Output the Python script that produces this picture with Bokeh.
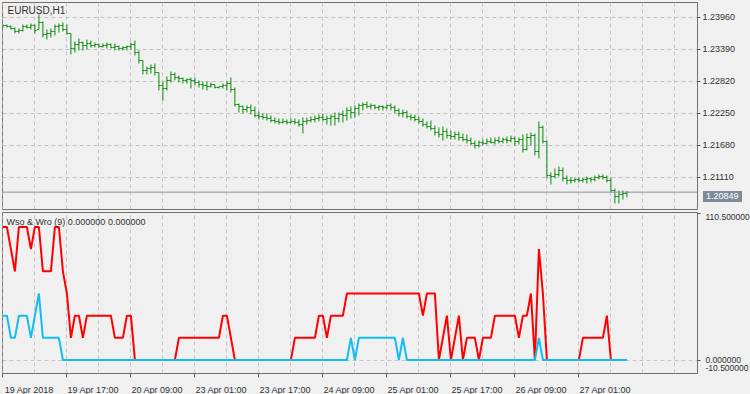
import numpy as np
from bokeh.plotting import figure
from bokeh.layouts import column
from bokeh.models import Range1d, FixedTicker, PrintfTickFormatter, Span, Label, Grid, Div
from bokeh.embed import file_html
from bokeh.resources import INLINE

# ---------------- data ----------------
symbol_title = "EURUSD,H1"
osc_title = "Wso & Wro (9) 0.000000 0.000000"
time_labels = ["19 Apr 2018", "19 Apr 17:00", "20 Apr 09:00", "23 Apr 01:00", "23 Apr 17:00",
               "24 Apr 09:00", "25 Apr 01:00", "25 Apr 17:00", "26 Apr 09:00", "27 Apr 01:00"]
label_bars = [0, 16, 32, 48, 64, 80, 96, 112, 128, 144]
price_ticks = [1.23960, 1.23390, 1.22820, 1.22250, 1.21680, 1.21110]
last_price = 1.20849
osc_ticks = [110.5, 0.0, -10.5]

high = [
    1.23835, 1.23835, 1.23818, 1.23782, 1.23764, 1.23835, 1.23835, 1.23853, 1.23835, 1.24013,
    1.23889, 1.23746, 1.23764, 1.23835, 1.23853, 1.23871, 1.23835, 1.23675, 1.23532, 1.23586,
    1.23532, 1.23568, 1.23550, 1.23515, 1.23497, 1.23497, 1.23515, 1.23497, 1.23497, 1.23461,
    1.23443, 1.23461, 1.23515, 1.23550, 1.23372, 1.23194, 1.23087, 1.23123, 1.23141, 1.22980,
    1.22820, 1.22909, 1.22998, 1.22980, 1.22927, 1.22891, 1.22873, 1.22891, 1.22891, 1.22838,
    1.22820, 1.22820, 1.22802, 1.22766, 1.22731, 1.22784, 1.22820, 1.22891, 1.22713, 1.22428,
    1.22393, 1.22393, 1.22410, 1.22375, 1.22286, 1.22250, 1.22250, 1.22214, 1.22179, 1.22161,
    1.22161, 1.22143, 1.22161, 1.22161, 1.22143, 1.22179, 1.22179, 1.22197, 1.22214, 1.22232,
    1.22250, 1.22214, 1.22232, 1.22268, 1.22268, 1.22304, 1.22357, 1.22375, 1.22393, 1.22428,
    1.22446, 1.22464, 1.22428, 1.22410, 1.22393, 1.22393, 1.22410, 1.22428, 1.22393, 1.22339,
    1.22321, 1.22304, 1.22232, 1.22232, 1.22197, 1.22161, 1.22108, 1.22125, 1.22036, 1.22001,
    1.22018, 1.21983, 1.21947, 1.21929, 1.21929, 1.21894, 1.21876, 1.21822, 1.21769, 1.21769,
    1.21787, 1.21805, 1.21822, 1.21822, 1.21840, 1.21822, 1.21840, 1.21858, 1.21840, 1.21822,
    1.21876, 1.21894, 1.21912, 1.21894, 1.22108, 1.22036, 1.21769, 1.21199, 1.21271, 1.21306,
    1.21289, 1.21146, 1.21110, 1.21110, 1.21110, 1.21110, 1.21128, 1.21110, 1.21146, 1.21164,
    1.21164, 1.21146, 1.21110, 1.20914, 1.20879, 1.20879, 1.20861]

low = [
    1.23782, 1.23782, 1.23746, 1.23675, 1.23675, 1.23711, 1.23764, 1.23746, 1.23675, 1.23746,
    1.23604, 1.23568, 1.23604, 1.23639, 1.23693, 1.23711, 1.23657, 1.23301, 1.23336, 1.23372,
    1.23372, 1.23390, 1.23425, 1.23425, 1.23425, 1.23425, 1.23408, 1.23408, 1.23372, 1.23372,
    1.23372, 1.23372, 1.23390, 1.23283, 1.23141, 1.22945, 1.22945, 1.22962, 1.22927, 1.22660,
    1.22482, 1.22660, 1.22802, 1.22838, 1.22802, 1.22784, 1.22784, 1.22695, 1.22749, 1.22713,
    1.22677, 1.22660, 1.22713, 1.22695, 1.22695, 1.22695, 1.22660, 1.22624, 1.22375, 1.22268,
    1.22250, 1.22268, 1.22232, 1.22179, 1.22143, 1.22143, 1.22125, 1.22090, 1.22072, 1.22054,
    1.22072, 1.22054, 1.22072, 1.22054, 1.22018, 1.21894, 1.22054, 1.22090, 1.22090, 1.22108,
    1.22108, 1.22054, 1.22036, 1.22036, 1.22090, 1.22090, 1.22125, 1.22161, 1.22179, 1.22214,
    1.22304, 1.22339, 1.22321, 1.22321, 1.22304, 1.22304, 1.22321, 1.22304, 1.22250, 1.22197,
    1.22179, 1.22161, 1.22125, 1.22108, 1.22072, 1.22018, 1.21983, 1.21947, 1.21858, 1.21822,
    1.21769, 1.21805, 1.21787, 1.21787, 1.21769, 1.21751, 1.21716, 1.21680, 1.21627, 1.21644,
    1.21680, 1.21698, 1.21716, 1.21698, 1.21716, 1.21716, 1.21716, 1.21733, 1.21680, 1.21698,
    1.21555, 1.21591, 1.21680, 1.21502, 1.21449, 1.21716, 1.21092, 1.20985, 1.21092, 1.21128,
    1.21039, 1.20985, 1.21003, 1.21021, 1.21021, 1.21021, 1.21003, 1.21021, 1.21039, 1.21074,
    1.21074, 1.21021, 1.20843, 1.20647, 1.20647, 1.20718, 1.20754]

open_ = [
    1.23800, 1.23818, 1.23800, 1.23764, 1.23711, 1.23728, 1.23800, 1.23782, 1.23818, 1.23746,
    1.23871, 1.23657, 1.23675, 1.23711, 1.23800, 1.23818, 1.23746, 1.23675, 1.23408, 1.23479,
    1.23515, 1.23461, 1.23497, 1.23461, 1.23479, 1.23443, 1.23461, 1.23479, 1.23425, 1.23443,
    1.23408, 1.23425, 1.23443, 1.23479, 1.23336, 1.23194, 1.23016, 1.23052, 1.23069, 1.22980,
    1.22749, 1.22695, 1.22838, 1.22945, 1.22891, 1.22873, 1.22838, 1.22856, 1.22838, 1.22802,
    1.22766, 1.22749, 1.22731, 1.22766, 1.22713, 1.22731, 1.22749, 1.22784, 1.22677, 1.22410,
    1.22375, 1.22321, 1.22357, 1.22304, 1.22214, 1.22197, 1.22179, 1.22161, 1.22125, 1.22108,
    1.22090, 1.22108, 1.22090, 1.22108, 1.22090, 1.22054, 1.22108, 1.22125, 1.22143, 1.22161,
    1.22179, 1.22143, 1.22161, 1.22197, 1.22161, 1.22232, 1.22214, 1.22304, 1.22268, 1.22339,
    1.22393, 1.22410, 1.22375, 1.22393, 1.22357, 1.22375, 1.22357, 1.22393, 1.22357, 1.22304,
    1.22250, 1.22268, 1.22197, 1.22179, 1.22143, 1.22108, 1.22054, 1.22018, 1.21983, 1.21912,
    1.21876, 1.21929, 1.21858, 1.21840, 1.21876, 1.21822, 1.21787, 1.21769, 1.21716, 1.21680,
    1.21733, 1.21716, 1.21751, 1.21733, 1.21769, 1.21751, 1.21787, 1.21769, 1.21805, 1.21751,
    1.21787, 1.21609, 1.21822, 1.21858, 1.21573, 1.22001, 1.21751, 1.21146, 1.21128, 1.21164,
    1.21235, 1.21092, 1.21057, 1.21057, 1.21074, 1.21057, 1.21074, 1.21092, 1.21074, 1.21110,
    1.21128, 1.21110, 1.21057, 1.20879, 1.20771, 1.20807, 1.20825]

close = [
    1.23818, 1.23800, 1.23764, 1.23711, 1.23728, 1.23800, 1.23782, 1.23818, 1.23728, 1.23871,
    1.23657, 1.23675, 1.23711, 1.23800, 1.23818, 1.23746, 1.23675, 1.23408, 1.23479, 1.23515,
    1.23461, 1.23497, 1.23461, 1.23479, 1.23443, 1.23461, 1.23479, 1.23425, 1.23443, 1.23408,
    1.23425, 1.23443, 1.23479, 1.23336, 1.23194, 1.23016, 1.23052, 1.23069, 1.22980, 1.22749,
    1.22695, 1.22838, 1.22945, 1.22891, 1.22873, 1.22838, 1.22856, 1.22838, 1.22802, 1.22766,
    1.22749, 1.22731, 1.22766, 1.22713, 1.22731, 1.22749, 1.22784, 1.22677, 1.22410, 1.22375,
    1.22321, 1.22357, 1.22304, 1.22214, 1.22197, 1.22179, 1.22161, 1.22125, 1.22108, 1.22090,
    1.22108, 1.22090, 1.22108, 1.22090, 1.22054, 1.22108, 1.22125, 1.22143, 1.22161, 1.22179,
    1.22143, 1.22161, 1.22197, 1.22161, 1.22232, 1.22214, 1.22304, 1.22268, 1.22339, 1.22393,
    1.22410, 1.22375, 1.22393, 1.22357, 1.22375, 1.22357, 1.22393, 1.22357, 1.22304, 1.22250,
    1.22268, 1.22197, 1.22179, 1.22143, 1.22108, 1.22054, 1.22018, 1.21983, 1.21912, 1.21876,
    1.21929, 1.21858, 1.21840, 1.21876, 1.21822, 1.21787, 1.21769, 1.21716, 1.21680, 1.21733,
    1.21716, 1.21751, 1.21733, 1.21769, 1.21751, 1.21787, 1.21769, 1.21805, 1.21751, 1.21787,
    1.21609, 1.21822, 1.21858, 1.21573, 1.22001, 1.21751, 1.21146, 1.21128, 1.21164, 1.21235,
    1.21092, 1.21057, 1.21057, 1.21074, 1.21057, 1.21074, 1.21092, 1.21074, 1.21110, 1.21128,
    1.21110, 1.21057, 1.20879, 1.20771, 1.20807, 1.20825, 1.20849]

# red oscillator line
wro = [
    100, 100, 83.33, 66.67, 100, 100, 100, 83.33, 100, 100,
    66.67, 66.67, 66.67, 100, 100, 66.67, 50, 16.67, 33.33, 33.33,
    16.67, 33.33, 33.33, 33.33, 33.33, 33.33, 33.33, 33.33, 16.67, 16.67,
    16.67, 33.33, 33.33, 0, 0, 0, 0, 0, 0, 0,
    0, 0, 0, 0, 16.67, 16.67, 16.67, 16.67, 16.67, 16.67,
    16.67, 16.67, 16.67, 16.67, 16.67, 33.33, 33.33, 16.67, 0, 0,
    0, 0, 0, 0, 0, 0, 0, 0, 0, 0,
    0, 0, 0, 16.67, 16.67, 16.67, 16.67, 16.67, 16.67, 33.33,
    33.33, 16.67, 33.33, 33.33, 33.33, 33.33, 50, 50, 50, 50,
    50, 50, 50, 50, 50, 50, 50, 50, 50, 50,
    50, 50, 50, 50, 50, 33.33, 50, 50, 50, 0,
    16.67, 33.33, 0, 16.67, 33.33, 0, 16.67, 16.67, 16.67, 0,
    16.67, 16.67, 16.67, 33.33, 33.33, 33.33, 33.33, 33.33, 33.33, 16.67,
    33.33, 33.33, 50, 0, 83.33, 50, 0, 0, 0, 0,
    0, 0, 0, 0, 0, 16.67, 16.67, 16.67, 16.67, 16.67,
    16.67, 33.33, 0, 0, 0, 0, 0]

# blue oscillator line
wso = [
    33.33, 33.33, 16.67, 16.67, 33.33, 33.33, 33.33, 16.67, 33.33, 50,
    16.67, 16.67, 16.67, 16.67, 16.67, 0, 0, 0, 0, 0,
    0, 0, 0, 0, 0, 0, 0, 0, 0, 0,
    0, 0, 0, 0, 0, 0, 0, 0, 0, 0,
    0, 0, 0, 0, 0, 0, 0, 0, 0, 0,
    0, 0, 0, 0, 0, 0, 0, 0, 0, 0,
    0, 0, 0, 0, 0, 0, 0, 0, 0, 0,
    0, 0, 0, 0, 0, 0, 0, 0, 0, 0,
    0, 0, 0, 0, 0, 0, 0, 16.67, 0, 16.67,
    16.67, 16.67, 16.67, 16.67, 16.67, 16.67, 16.67, 16.67, 16.67, 0,
    16.67, 0, 0, 0, 0, 0, 0, 0, 0, 0,
    0, 0, 0, 0, 0, 0, 0, 0, 0, 0,
    0, 0, 0, 0, 0, 0, 0, 0, 0, 0,
    0, 0, 0, 0, 16.67, 0, 0, 0, 0, 0,
    0, 0, 0, 0, 0, 0, 0, 0, 0, 0,
    0, 0, 0, 0, 0, 0, 0]

# ---------------- styling ----------------
FONT = "Liberation Sans"
BG = "#f0f0f0"
FRAME = "#707070"
GRID = "#c4c4c4"
BAR = "#0a8a0a"
TXT = "#303030"
TICK = "#555555"

FRAME_W = 695
TOP_H = 207
BOT_H = 161
LEFT = 2

n = len(close)
idx = np.arange(n)
grid_bars = list(range(0, 176, 8))

x_range = Range1d(-0.1, 173.65)
price_range = Range1d(1.20540, 1.24227)
osc_span = osc_ticks[0] - osc_ticks[2]
half_px = 0.5 * osc_span / BOT_H          # half-pixel nudge so the zero level sits on whole pixels
osc_range = Range1d(osc_ticks[2] + half_px, osc_ticks[0] + half_px)


def style_common(p):
    p.xgrid.grid_line_color = None
    p.ygrid.grid_line_color = None
    p.add_layout(Grid(dimension=0, ticker=FixedTicker(ticks=grid_bars),
                      grid_line_color=GRID, grid_line_dash="4 3", grid_line_width=1))


top = figure(frame_width=FRAME_W, frame_height=TOP_H, x_range=x_range, y_range=price_range,
             output_backend="svg", toolbar_location=None, x_axis_location=None,
             y_axis_location="right", min_border_left=LEFT, min_border_right=53,
             min_border_top=2, min_border_bottom=1, background_fill_color=BG,
             border_fill_color=BG, outline_line_color=FRAME)
style_common(top)
top.add_layout(Grid(dimension=1, ticker=FixedTicker(ticks=price_ticks),
                    grid_line_color=GRID, grid_line_dash="4 3", grid_line_width=1))

ya = top.yaxis[0]
ya.ticker = FixedTicker(ticks=price_ticks, minor_ticks=[])
ya.formatter = PrintfTickFormatter(format="%.5f")
ya.axis_line_color = None
ya.major_tick_out = 3
ya.major_tick_in = 0
ya.major_tick_line_color = TICK
ya.minor_tick_line_color = None
ya.major_label_standoff = 2
ya.major_label_text_font = FONT
ya.major_label_text_font_size = "9px"
ya.major_label_text_color = TXT

top.add_layout(Span(location=last_price, dimension="width", line_color="#8793a0", line_width=1))

bar_w = 0.45
top.segment(x0=idx, y0=low, x1=idx, y1=high, line_color=BAR, line_width=1)
top.segment(x0=idx - bar_w, y0=open_, x1=idx, y1=open_, line_color=BAR, line_width=1)
top.segment(x0=idx, y0=close, x1=idx + bar_w, y1=close, line_color=BAR, line_width=1)

top.add_layout(Label(x=5, y=TOP_H - 8, x_units="screen", y_units="screen", text=symbol_title,
                     text_font=FONT, text_font_size="10px", text_color=TXT,
                     text_baseline="middle", text_align="left"))

# ---------------- oscillator ----------------
bot = figure(frame_width=FRAME_W, frame_height=BOT_H, x_range=x_range, y_range=osc_range,
             output_backend="svg", toolbar_location=None, x_axis_location="below",
             y_axis_location="right", min_border_left=LEFT, min_border_right=53,
             min_border_top=2, min_border_bottom=21, background_fill_color=BG,
             border_fill_color=BG, outline_line_color=FRAME)
style_common(bot)
bot.add_layout(Grid(dimension=1, ticker=FixedTicker(ticks=[0.0]),
                    grid_line_color=GRID, grid_line_dash="4 3", grid_line_width=1))

bot.line(idx, wro, line_color="#ff0000", line_width=2)
bot.line(idx, wso, line_color="#12bdf0", line_width=2)

bot.add_layout(Label(x=4, y=BOT_H - 9, x_units="screen", y_units="screen", text=osc_title,
                     text_font=FONT, text_font_size="9px", text_color=TXT,
                     text_baseline="middle", text_align="left"))

# right axis: labels drawn slightly inside like the terminal does, tick marks at true values
px_per_unit = BOT_H / osc_span
osc_label_pos = [osc_ticks[0] - 4 / px_per_unit, osc_ticks[1], osc_ticks[2] + 6 / px_per_unit]
oy = bot.yaxis[0]
oy.ticker = FixedTicker(ticks=osc_label_pos, minor_ticks=osc_ticks)
oy.major_label_overrides = {pos: f"{v:.6f}" for pos, v in zip(osc_label_pos, osc_ticks)}
oy.axis_line_color = None
oy.major_tick_line_color = None
oy.minor_tick_out = 3
oy.minor_tick_in = 0
oy.minor_tick_line_color = TICK
oy.major_label_standoff = 2
oy.major_label_text_font = FONT
oy.major_label_text_font_size = "8.5px"
oy.major_label_text_color = TXT

# bottom axis: labels start right of the tick mark
shift = 6.6
label_pos = [b + shift for b in label_bars]
xa = bot.xaxis[0]
xa.ticker = FixedTicker(ticks=label_pos, minor_ticks=label_bars)
xa.major_label_overrides = {pos: lbl for pos, lbl in zip(label_pos, time_labels)}
xa.axis_line_color = None
xa.major_tick_line_color = None
xa.minor_tick_out = 4
xa.minor_tick_in = 0
xa.minor_tick_line_color = TICK
xa.major_label_standoff = 5
xa.major_label_text_font = FONT
xa.major_label_text_font_size = "9px"
xa.major_label_text_color = TXT

layout = column(top, bot, spacing=0, styles={"background-color": BG})

# current-price tag on the price scale (the terminal's last-price marker)
frac = (price_range.end - last_price) / (price_range.end - price_range.start)
tag_center = 2 + frac * TOP_H
tag_h = 11
tag_top = tag_center - tag_h / 2
tag_left = LEFT + FRAME_W + 1
price_tag = Div(text=f"{last_price:.5f}", width=39, height=tag_h,
                stylesheets=[":host { position: absolute !important; left: %dpx !important; "
                             "top: %.0fpx !important; width: 39px; height: %dpx; "
                             "background-color: #7d8b9a; color: #ffffff; "
                             "font-family: 'Liberation Sans'; font-size: 9px; line-height: %dpx; "
                             "padding-left: 3px; box-sizing: border-box; overflow: hidden; }"
                             % (tag_left, tag_top, tag_h, tag_h)])

open("out.html", "w").write(file_html([layout, price_tag], INLINE))
